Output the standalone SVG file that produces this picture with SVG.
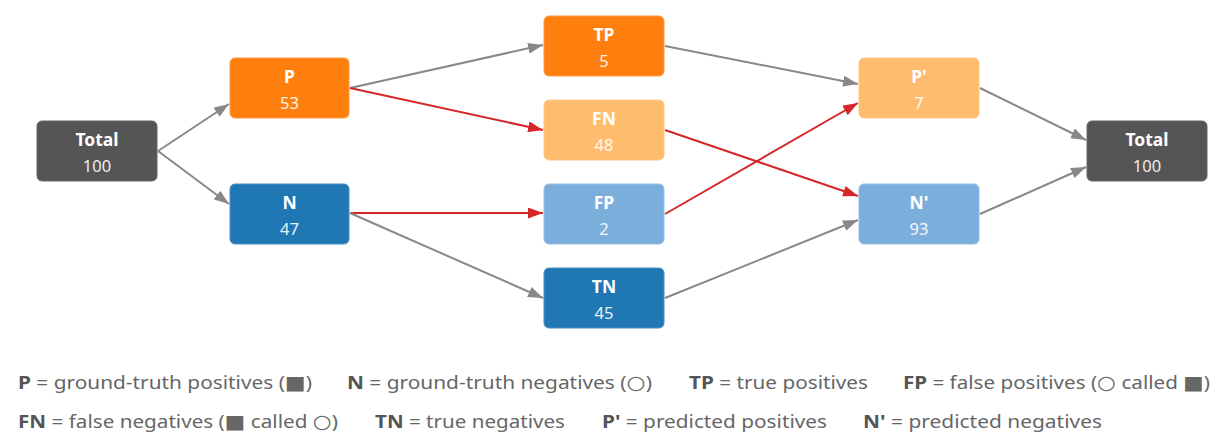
<svg xmlns="http://www.w3.org/2000/svg" width="1226" height="443" viewBox="0 0 1226 443">
<style>
.lbl{font-family:"Noto Sans","Open Sans",sans-serif;font-size:17.5px;font-weight:bold;fill:#fff;text-anchor:middle}
.val{font-family:"Noto Sans","Open Sans",sans-serif;font-size:16.5px;fill:#fff;fill-opacity:0.92;text-anchor:middle}
.e{fill:none;stroke-width:2}
.g{stroke:#888}
.r{stroke:#d62728}
.leg{font-family:"Noto Sans","Open Sans",sans-serif;font-size:18px;fill:#666}
.leg tspan.b{font-weight:bold;fill:#555}
.leg tspan.s{font-family:"DejaVu Sans",sans-serif;font-size:19px}
</style>
<defs>
<marker id="ag" viewBox="0 0 15 11" refX="15" refY="5.5" markerWidth="15" markerHeight="11" markerUnits="userSpaceOnUse" orient="auto"><path d="M0,0L15,5.5L0,11z" fill="#888"/></marker>
<marker id="ar" viewBox="0 0 15 11" refX="15" refY="5.5" markerWidth="15" markerHeight="11" markerUnits="userSpaceOnUse" orient="auto"><path d="M0,0L15,5.5L0,11z" fill="#d62728"/></marker>
</defs>
<rect width="1226" height="443" fill="#fff"/>
<g id="connectors">
<path class="e g" d="M158,151L229,104" marker-end="url(#ag)"/>
<path class="e g" d="M158,151L229,204" marker-end="url(#ag)"/>
<path class="e g" d="M350,88L543,45" marker-end="url(#ag)"/>
<path class="e r" d="M350,88L543,130" marker-end="url(#ar)"/>
<path class="e r" d="M350,213L543,213" marker-end="url(#ar)"/>
<path class="e g" d="M350,213L543,298" marker-end="url(#ag)"/>
<path class="e g" d="M665,46L858,84" marker-end="url(#ag)"/>
<path class="e r" d="M665,130L858,196" marker-end="url(#ar)"/>
<path class="e r" d="M665,214L858,103" marker-end="url(#ar)"/>
<path class="e g" d="M665,298L858,220" marker-end="url(#ag)"/>
<path class="e g" d="M980,88L1086,140" marker-end="url(#ag)"/>
<path class="e g" d="M980,214L1086,167" marker-end="url(#ag)"/>
</g>
<g id="total-left"><rect x="37" y="121" width="120" height="60" rx="5" fill="#555" stroke="#666"/><text class="lbl" x="97" y="146">Total</text><text class="val" x="97" y="172">100</text></g>
<g id="P"><rect x="230" y="58" width="119" height="60" rx="5" fill="#ff7f0e" stroke="#ff9a40"/><text class="lbl" x="289.5" y="83">P</text><text class="val" x="289.5" y="109">53</text></g>
<g id="N"><rect x="230" y="184" width="119" height="60" rx="5" fill="#1f77b4" stroke="#4a90c4"/><text class="lbl" x="289.5" y="209">N</text><text class="val" x="289.5" y="235">47</text></g>
<g id="TP"><rect x="544" y="16" width="120" height="60" rx="5" fill="#ff7f0e" stroke="#ff9a40"/><text class="lbl" x="604" y="41">TP</text><text class="val" x="604" y="67">5</text></g>
<g id="FN"><rect x="544" y="100" width="120" height="60" rx="5" fill="#ffbb6e" stroke="#ffc98a"/><text class="lbl" x="604" y="125">FN</text><text class="val" x="604" y="151">48</text></g>
<g id="FP"><rect x="544" y="184" width="120" height="60" rx="5" fill="#7caedc" stroke="#95bde3"/><text class="lbl" x="604" y="209">FP</text><text class="val" x="604" y="235">2</text></g>
<g id="TN"><rect x="544" y="268" width="120" height="60" rx="5" fill="#1f77b4" stroke="#4a90c4"/><text class="lbl" x="604" y="293">TN</text><text class="val" x="604" y="319">45</text></g>
<g id="Pp"><rect x="859" y="58" width="120" height="60" rx="5" fill="#ffbb6e" stroke="#ffc98a"/><text class="lbl" x="919" y="83">P'</text><text class="val" x="919" y="109">7</text></g>
<g id="Np"><rect x="859" y="184" width="120" height="60" rx="5" fill="#7caedc" stroke="#95bde3"/><text class="lbl" x="919" y="209">N'</text><text class="val" x="919" y="235">93</text></g>
<g id="total-right"><rect x="1087" y="121" width="120" height="60" rx="5" fill="#555" stroke="#666"/><text class="lbl" x="1147" y="146">Total</text><text class="val" x="1147" y="172">100</text></g>
<g id="legend">
<text class="leg" x="18" y="389" textLength="294" lengthAdjust="spacingAndGlyphs"><tspan class="b">P</tspan> = ground-truth positives (<tspan class="s">■</tspan>)</text>
<text class="leg" x="347" y="389" textLength="305" lengthAdjust="spacingAndGlyphs"><tspan class="b">N</tspan> = ground-truth negatives (<tspan class="s">○</tspan>)</text>
<text class="leg" x="689" y="389" textLength="179" lengthAdjust="spacingAndGlyphs"><tspan class="b">TP</tspan> = true positives</text>
<text class="leg" x="903" y="389" textLength="307" lengthAdjust="spacingAndGlyphs"><tspan class="b">FP</tspan> = false positives (<tspan class="s">○</tspan> called <tspan class="s">■</tspan>)</text>
<text class="leg" x="18" y="428" textLength="320" lengthAdjust="spacingAndGlyphs"><tspan class="b">FN</tspan> = false negatives (<tspan class="s">■</tspan> called <tspan class="s">○</tspan>)</text>
<text class="leg" x="375" y="428" textLength="190" lengthAdjust="spacingAndGlyphs"><tspan class="b">TN</tspan> = true negatives</text>
<text class="leg" x="602" y="428" textLength="225" lengthAdjust="spacingAndGlyphs"><tspan class="b">P'</tspan> = predicted positives</text>
<text class="leg" x="863" y="428" textLength="239" lengthAdjust="spacingAndGlyphs"><tspan class="b">N'</tspan> = predicted negatives</text>
</g>
</svg>
